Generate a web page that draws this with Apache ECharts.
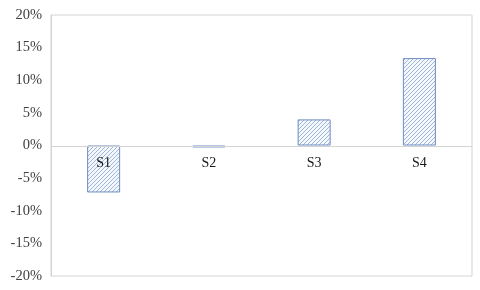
<!DOCTYPE html>
<html><head><meta charset="utf-8">
<script src="https://cdn.jsdelivr.net/npm/echarts@6/dist/echarts.min.js"></script>
<style>html,body{margin:0;padding:0;background:#fff}#c{width:480px;height:290px}</style>
</head><body><div id="c"></div>
<script>
const categories = ['S1','S2','S3','S4'];
const values = [-7.2, -0.3, 4.0, 13.4];
const yTicks = [-20,-15,-10,-5,0,5,10,15,20];

function hatch(){
  const n = 4;
  const c = document.createElement('canvas');
  c.width = n; c.height = n;
  const g = c.getContext('2d');
  g.fillStyle = '#f4f7fc'; g.fillRect(0,0,n,n);
  g.strokeStyle = '#9fb6db'; g.lineWidth = 1;
  g.beginPath();
  g.moveTo(0,n); g.lineTo(n,0);
  g.moveTo(-1,1); g.lineTo(1,-1);
  g.moveTo(n-1,n+1); g.lineTo(n+1,n-1);
  g.stroke();
  return c;
}
const chart = echarts.init(document.getElementById('c'));
chart.setOption({
  animation:false,
  grid:{left:51,right:8,top:15,bottom:14,show:true,borderColor:'#d4d4d4',borderWidth:1,outerBoundsMode:'none',containLabel:false},
  xAxis:{type:'category',data:categories,offset:-130,z:10,
    axisLine:{onZero:false,lineStyle:{color:'#d4d4d4'}},
    axisTick:{show:false},
    axisLabel:{color:'#1a1a1a',fontFamily:'Liberation Serif',fontSize:14,margin:10}},
  yAxis:{type:'value',min:yTicks[0],max:yTicks[yTicks.length-1],interval:5,
    axisLine:{show:true,lineStyle:{color:'#d4d4d4'}},
    axisTick:{show:false},splitLine:{show:false},
    axisLabel:{color:'#404040',fontFamily:'Liberation Serif',fontSize:14.5,margin:9,formatter:v=>v+'%'}},
  series:[{type:'bar',data:values,barWidth:33,z:1,
    itemStyle:{color:{image:hatch(),repeat:'repeat'},borderColor:'#6f8dc0',borderWidth:1}}]
});
</script></body></html>
